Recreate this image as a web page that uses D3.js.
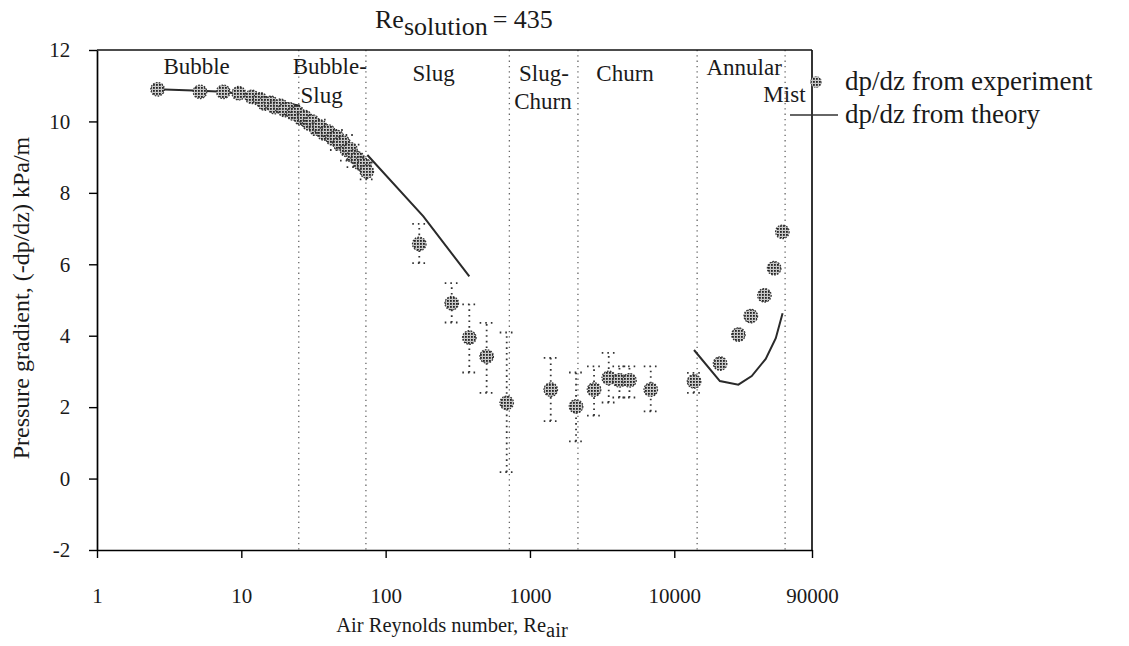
<!DOCTYPE html>
<html><head><meta charset="utf-8">
<script src="https://cdn.jsdelivr.net/npm/d3@7"></script>
<style>
html,body{margin:0;padding:0;background:#fff;}
svg{display:block;}
text{font-family:"Liberation Serif","Times New Roman",serif;fill:#1a1a1a;}
</style></head>
<body>
<svg id="chart" width="1129" height="646"></svg>
<script>
// ---- data ----
const xTickValues = [1, 10, 100, 1000, 10000, 90000];
const xTickLabels = ["1", "10", "100", "1000", "10000", "90000"];
const yTickValues = [-2, 0, 2, 4, 6, 8, 10, 12];
const yTickLabels = ["-2", "0", "2", "4", "6", "8", "10", "12"];

const regimeBoundaries = [25, 73, 720, 2150, 14400, 58600];
const regimeLabels = [
  {text: "Bubble", re: 4.9, line: 0},
  {text: "Bubble-", re: 41, line: 0},
  {text: "Slug", re: 36, line: 1},
  {text: "Slug", re: 215, line: 0.25},
  {text: "Slug-", re: 1250, line: 0.25},
  {text: "Churn", re: 1230, line: 1.2},
  {text: "Churn", re: 4560, line: 0.25},
  {text: "Annular", re: 30500, line: 0.05},
  {text: "Mist", re: 58000, line: 0.95}
];

const expRe  = [2.63, 5.17, 7.5, 9.6, 11.8,
  13.5, 14.5, 16.0, 17.0, 18.7, 20.0, 21.5, 23.0, 24.5, 26.0, 27.5, 29.5, 31.0, 33.0,
  35.0, 37.5, 40.0, 43.0, 46.0, 48.0, 51.0, 54.0, 57.0, 60.0, 64.0, 67.0, 71.0, 74.0,
  171, 287, 380, 501, 690, 1393, 2086, 2780, 3514, 4170, 4890, 6870,
  13710, 20770, 27800, 33900, 42100, 49200, 56100];
const expVal = [10.90, 10.83, 10.83, 10.79, 10.69,
  10.62, 10.50, 10.52, 10.40, 10.44, 10.32, 10.34, 10.22, 10.24, 10.08, 10.12, 9.94, 10.00, 9.80,
  9.86, 9.66, 9.72, 9.52, 9.56, 9.38, 9.40, 9.20, 9.22, 9.02, 8.96, 8.82, 8.78, 8.60,
  6.57, 4.91, 3.95, 3.42, 2.12, 2.49, 2.02, 2.49, 2.82, 2.75, 2.75, 2.49,
  2.72, 3.22, 4.03, 4.55, 5.13, 5.89, 6.91];
const expLow = [null, null, null, null, null,
  null, null, null, null, null, null, null, null, null, null, null, null, null, null,
  9.62, null, null, null, 9.20, null, null, 8.90, null, 8.72, null, null, null, 8.38,
  6.03, 4.37, 2.97, 2.40, 0.18, 1.61, 1.04, 1.76, 2.13, 2.27, 2.27, 1.88,
  2.40, null, null, null, null, null, null];
const expHigh = [null, null, null, null, null,
  null, null, null, null, null, null, null, null, null, null, null, null, null, null,
  10.05, null, null, null, 9.76, null, null, 9.62, null, 9.35, null, null, null, 8.85,
  7.13, 5.47, 4.88, 4.36, 4.09, 3.38, 2.97, 3.14, 3.52, 3.14, 3.14, 3.14,
  2.96, null, null, null, null, null, null];

const theoryBubbleRe  = [2.63, 5.17, 7.5, 10.9, 16.6, 25.5];
const theoryBubbleVal = [10.90, 10.86, 10.83, 10.74, 10.58, 10.44];
const theorySlugRe    = [74.7, 182.5, 380];
const theorySlugVal   = [9.06, 7.34, 5.66];
const theoryAnnRe     = [13700, 20700, 27800, 34400, 43000, 50500, 56300];
const theoryAnnVal    = [3.60, 2.73, 2.63, 2.87, 3.35, 3.93, 4.63];

// ---- layout ----
const svg = d3.select("#chart");
const pL = 97, pR = 812, pT = 50, pB = 550;
const x = d3.scaleLog().domain([1, 90000]).range([pL, pR]);
const y = d3.scaleLinear().domain([-2, 12]).range([pB, pT]);

const defs = svg.append("defs");
const pat = defs.append("pattern").attr("id", "chk").attr("patternUnits", "userSpaceOnUse")
  .attr("width", 3).attr("height", 3);
pat.append("rect").attr("width", 3).attr("height", 3).attr("fill", "#c8c8c8");
pat.append("rect").attr("width", 1.8).attr("height", 1.8).attr("fill", "#222");

// regime boundary lines
svg.append("g").selectAll("line").data(regimeBoundaries).join("line")
  .attr("x1", d => x(d)).attr("x2", d => x(d)).attr("y1", pT).attr("y2", pB)
  .attr("stroke", "#666").attr("stroke-width", 1.3).attr("stroke-dasharray", "1.3,4");

// regime labels
svg.append("g").selectAll("text").data(regimeLabels).join("text")
  .attr("x", d => x(d.re)).attr("y", d => 74 + d.line * 29)
  .attr("text-anchor", "middle").attr("font-size", 23).text(d => d.text);

// axes
const xAxis = d3.axisBottom(x).tickValues(xTickValues).tickFormat((d, i) => xTickLabels[i])
  .tickSize(8).tickSizeOuter(0);
const gx = svg.append("g").attr("transform", `translate(0,${pB})`).call(xAxis);
gx.selectAll("text").attr("font-size", 21).attr("dy", "2.0em").attr("fill", "#1a1a1a")
  .attr("font-family", "Liberation Serif");
gx.select(".domain").attr("stroke-width", 1.7);
gx.selectAll(".tick line").attr("stroke-width", 1.4);

const yAxis = d3.axisLeft(y).tickValues(yTickValues).tickFormat((d, i) => yTickLabels[i])
  .tickSize(8).tickSizeOuter(0);
const gy = svg.append("g").attr("transform", `translate(${pL},0)`).call(yAxis);
gy.selectAll("text").attr("font-size", 21).attr("dx", "-0.75em").attr("fill", "#1a1a1a")
  .attr("font-family", "Liberation Serif");
gy.select(".domain").attr("stroke-width", 1.7);
gy.selectAll(".tick line").attr("stroke-width", 1.4);

// top and right border
svg.append("line").attr("x1", pL).attr("x2", pR).attr("y1", pT).attr("y2", pT)
  .attr("stroke", "#111").attr("stroke-width", 1.7);
svg.append("line").attr("x1", pR).attr("x2", pR).attr("y1", pT).attr("y2", pB)
  .attr("stroke", "#111").attr("stroke-width", 1.7);

// theory lines
const lineGen = d3.line().x(d => x(d[0])).y(d => y(d[1]));
[[theoryBubbleRe, theoryBubbleVal], [theorySlugRe, theorySlugVal], [theoryAnnRe, theoryAnnVal]]
  .forEach(([re, v]) => {
    svg.append("path").datum(re.map((r, i) => [r, v[i]]))
      .attr("d", lineGen).attr("fill", "none").attr("stroke", "#2a2a2a").attr("stroke-width", 2);
  });

// error bars
const exp = expRe.map((r, i) => ({re: r, v: expVal[i], lo: expLow[i], hi: expHigh[i]}));
const eb = svg.append("g").attr("stroke", "#333").attr("stroke-width", 1.8).attr("fill", "none");
exp.filter(d => d.lo !== null).forEach(d => {
  const cx = x(d.re);
  eb.append("line").attr("x1", cx).attr("x2", cx).attr("y1", y(d.lo)).attr("y2", y(d.hi))
    .attr("stroke-dasharray", "1.6,4");
  [d.lo, d.hi].forEach(v => {
    eb.append("line").attr("x1", cx - 7).attr("x2", cx + 7).attr("y1", y(v)).attr("y2", y(v))
      .attr("stroke-dasharray", "1.6,4");
  });
});

// experiment markers
svg.append("g").selectAll("circle").data(exp).join("circle")
  .attr("cx", d => x(d.re)).attr("cy", d => y(d.v)).attr("r", 6.8)
  .attr("fill", "url(#chk)").attr("stroke", "#333").attr("stroke-width", 1.2)
  .attr("stroke-dasharray", "1.6,1.4");

// legend
const lg = svg.append("g");
lg.append("circle").attr("cx", 816).attr("cy", 82).attr("r", 5.5)
  .attr("fill", "url(#chk)").attr("stroke", "#666").attr("stroke-width", 0.9).attr("stroke-dasharray", "1.5,1.5");
lg.append("text").attr("x", 845).attr("y", 90).attr("font-size", 27).text("dp/dz from experiment");
lg.append("line").attr("x1", 790).attr("x2", 838).attr("y1", 115).attr("y2", 115)
  .attr("stroke", "#333").attr("stroke-width", 1.7);
lg.append("text").attr("x", 845).attr("y", 123).attr("font-size", 27).text("dp/dz from theory");

// title
const title = svg.append("text").attr("x", 375).attr("y", 28)
  .attr("font-family", "Liberation Sans, Arial, sans-serif").attr("font-size", 26);
title.append("tspan").text("Re");
title.append("tspan").attr("dy", 7).text("solution");
title.append("tspan").attr("dy", -7).attr("dx", 5).text("= 435");

// axis titles
const xt = svg.append("text").attr("x", 452).attr("y", 632).attr("text-anchor", "middle").attr("font-size", 20.5);
xt.append("tspan").text("Air Reynolds number, Re");
xt.append("tspan").attr("dy", 5).text("air");

svg.append("text").attr("transform", "translate(29,298) rotate(-90)")
  .attr("text-anchor", "middle").attr("font-size", 24).text("Pressure gradient, (-dp/dz) kPa/m");
</script>
</body></html>
